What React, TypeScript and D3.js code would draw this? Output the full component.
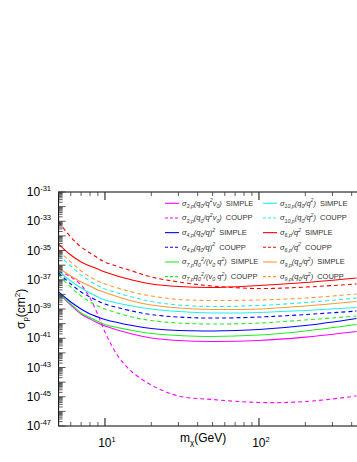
import React from "react";
import * as d3 from "d3";

// ---- data ----
const masses = [5, 6, 7, 8, 9, 10, 15, 20, 30, 50, 100, 200, 430];
const massesCoupp3 = [5, 6, 7, 8, 9, 10, 11, 12, 13, 15, 20, 30, 50, 100, 200, 430];

// log10(sigma_p / cm^2)
const logS3Simple = [-37.91, -38.73, -39.34, -39.68, -39.96, -40.16, -40.71, -40.98, -41.15, -41.22, -41.15, -40.92, -40.54];
const logS3Coupp = [-36.4, -36.81, -37.36, -38.25, -39.41, -40.57, -41.46, -42.15, -42.62, -43.31, -44.2, -44.95, -45.19, -45.39, -45.33, -44.95];
const logS4Simple = [-37.84, -38.52, -39.0, -39.34, -39.55, -39.72, -40.13, -40.33, -40.47, -40.5, -40.4, -40.13, -39.65];
const logS4Coupp = [-36.54, -37.29, -37.84, -38.18, -38.45, -38.66, -39.14, -39.38, -39.55, -39.62, -39.55, -39.38, -39.14];
const logS7Simple = [-37.91, -38.66, -39.27, -39.58, -39.85, -40.06, -40.47, -40.68, -40.81, -40.88, -40.78, -40.5, -40.06];
const logS7Coupp = [-36.68, -37.5, -38.11, -38.52, -38.79, -39.0, -39.55, -39.79, -39.96, -40.03, -39.96, -39.75, -39.48];
const logS10Simple = [-36.4, -37.09, -37.56, -37.91, -38.18, -38.38, -38.79, -39.0, -39.17, -39.27, -39.24, -39.1, -38.9];
const logS10Coupp = [-35.31, -36.06, -36.68, -37.09, -37.39, -37.63, -38.18, -38.49, -38.73, -38.83, -38.76, -38.56, -38.25];
const logS6Simple = [-34.56, -35.31, -35.79, -36.06, -36.27, -36.47, -37.02, -37.29, -37.46, -37.53, -37.39, -37.19, -36.88];
const logS6Coupp = [-33.05, -34.08, -34.76, -35.17, -35.51, -35.79, -36.4, -36.81, -37.15, -37.43, -37.6, -37.5, -37.29];
const logS9Simple = [-36.2, -36.74, -37.15, -37.43, -37.7, -37.87, -38.45, -38.73, -38.93, -39.03, -39.0, -38.79, -38.49];
const logS9Coupp = [-35.03, -35.79, -36.4, -36.81, -37.09, -37.29, -37.84, -38.11, -38.35, -38.42, -38.38, -38.25, -37.97];

const yTickExps = [-31, -33, -35, -37, -39, -41, -43, -45, -47];
const xTickExps = [1, 2];

type Part = [string, "n" | "sub" | "sup"];
const f3: Part[] = [["σ", "n"], ["3,p", "sub"], ["(q", "n"], ["0", "sub"], ["/q", "n"], ["2", "sup"], ["v", "n"], ["0", "sub"], [")", "n"]];
const f4: Part[] = [["σ", "n"], ["4,p", "sub"], ["(q", "n"], ["0", "sub"], ["/q)", "n"], ["2", "sup"]];
const f7: Part[] = [["σ", "n"], ["7,p", "sub"], ["q", "n"], ["0", "sub"], ["2", "sup"], ["/(v", "n"], ["0", "sub"], [" q", "n"], ["2", "sup"], [")", "n"]];
const f10: Part[] = [["σ", "n"], ["10,p", "sub"], ["(q", "n"], ["0", "sub"], ["/q", "n"], ["2", "sup"], [")", "n"]];
const f6: Part[] = [["σ", "n"], ["6,p", "sub"], ["/q", "n"], ["2", "sup"]];
const f9: Part[] = [["σ", "n"], ["9,p", "sub"], ["(q", "n"], ["0", "sub"], ["/q", "n"], ["2", "sup"], [")", "n"]];

const series = [
  { f: f3, exp: "SIMPLE", color: "#ff00ff", dashed: false, m: masses, v: logS3Simple, col: 0, row: 0 },
  { f: f3, exp: "COUPP", color: "#ff00ff", dashed: true, m: massesCoupp3, v: logS3Coupp, col: 0, row: 1 },
  { f: f4, exp: "SIMPLE", color: "#0000ff", dashed: false, m: masses, v: logS4Simple, col: 0, row: 2 },
  { f: f4, exp: "COUPP", color: "#0000ff", dashed: true, m: masses, v: logS4Coupp, col: 0, row: 3 },
  { f: f7, exp: "SIMPLE", color: "#22ee22", dashed: false, m: masses, v: logS7Simple, col: 0, row: 4 },
  { f: f7, exp: "COUPP", color: "#22ee22", dashed: true, m: masses, v: logS7Coupp, col: 0, row: 5 },
  { f: f10, exp: "SIMPLE", color: "#22eeee", dashed: false, m: masses, v: logS10Simple, col: 1, row: 0 },
  { f: f10, exp: "COUPP", color: "#22eeee", dashed: true, m: masses, v: logS10Coupp, col: 1, row: 1 },
  { f: f6, exp: "SIMPLE", color: "#ff0000", dashed: false, m: masses, v: logS6Simple, col: 1, row: 2 },
  { f: f6, exp: "COUPP", color: "#ff0000", dashed: true, m: masses, v: logS6Coupp, col: 1, row: 3 },
  { f: f9, exp: "SIMPLE", color: "#ff9933", dashed: false, m: masses, v: logS9Simple, col: 1, row: 4 },
  { f: f9, exp: "COUPP", color: "#ff9933", dashed: true, m: masses, v: logS9Coupp, col: 1, row: 5 },
];

const W = 357, H = 462;
const L = 58.6, T = 192, B = 426;
const FONT = "Liberation Sans, Arial, sans-serif";

function richTspans(parts: Part[], fs: number, tail: string) {
  const out: React.ReactNode[] = [];
  let cur = 0;
  parts.forEach((p, i) => {
    const target = p[1] === "sub" ? fs * 0.3 : p[1] === "sup" ? -fs * 0.45 : 0;
    const dy = target - cur;
    cur = target;
    out.push(
      <tspan key={i} dy={dy} fontStyle="italic" fontSize={p[1] === "n" ? fs : fs * 0.7}>{p[0]}</tspan>
    );
  });
  out.push(
    <tspan key="tail" dy={-cur} dx={4} fontSize={fs}>{tail}</tspan>
  );
  return out;
}

export default function App() {
  const x = d3.scaleLog().domain([5, 500]).range([L, 366.6]);
  const y = d3.scaleLog().domain([1e-31, 1e-47]).range([T, B]);
  const R = x(500);

  const line = d3
    .line<[number, number]>()
    .x((d) => x(d[0]))
    .y((d) => y(Math.pow(10, d[1])))
    .curve(d3.curveCatmullRom.alpha(0.5));

  const yMinor: { v: number; major: boolean }[] = [];
  for (let e = -47; e < -31; e++) {
    for (let k = 1; k <= 9; k++) yMinor.push({ v: k * Math.pow(10, e), major: k === 1 });
  }
  yMinor.push({ v: 1e-31, major: true });

  const xMinor: { v: number; major: boolean }[] = [];
  [5, 6, 7, 8, 9, 10, 20, 30, 40, 50, 60, 70, 80, 90, 100, 200, 300, 400, 500].forEach((v) =>
    xMinor.push({ v, major: v === 10 || v === 100 })
  );

  const rowY = (r: number) => 203.3 + r * 14.67;
  const colLine = [165, 263];
  const lineLen = 14;

  return (
    <svg width={W} height={H} style={{ display: "block", position: "absolute", left: 0, top: 0 }} fontFamily={FONT}>
      <rect x={0} y={0} width={W} height={H} fill="#fff" />
      <defs>
        <clipPath id="plot">
          <rect x={L} y={T} width={R - L} height={B - T} />
        </clipPath>
      </defs>
      {/* curves */}
      <g clipPath="url(#plot)">
        {series.map((s, i) => (
          <path
            key={i}
            d={line(s.m.map((m, j) => [m, s.v[j]] as [number, number])) || ""}
            fill="none"
            stroke={s.color}
            strokeWidth={1.1}
            strokeDasharray={s.dashed ? "4,3" : undefined}
          />
        ))}
      </g>
      {/* frame */}
      <rect x={L} y={T} width={R - L} height={B - T} fill="none" stroke="#000" strokeWidth={1} />
      {/* y ticks */}
      {yMinor.map((t, i) => (
        <line key={"y" + i} x1={L} x2={L + (t.major ? 7 : 4)} y1={y(t.v)} y2={y(t.v)} stroke="#333" strokeWidth={0.8} />
      ))}
      {/* x ticks */}
      {xMinor.map((t, i) => (
        <g key={"x" + i}>
          <line x1={x(t.v)} x2={x(t.v)} y1={B} y2={B - (t.major ? 8 : 4)} stroke="#333" strokeWidth={t.major ? 1.2 : 0.8} />
          <line x1={x(t.v)} x2={x(t.v)} y1={T} y2={T + (t.major ? 8 : 4)} stroke="#333" strokeWidth={t.major ? 1.2 : 0.8} />
        </g>
      ))}
      {/* y tick labels */}
      {yTickExps.map((e) => (
        <text key={"yl" + e} x={51} y={y(Math.pow(10, e)) + 4} textAnchor="end" fontSize={12} fill="#000">
          10<tspan dy={-5} fontSize={7.5}>{String(e)}</tspan>
        </text>
      ))}
      {/* x tick labels */}
      {xTickExps.map((e) => (
        <text key={"xl" + e} x={x(Math.pow(10, e)) + 2} y={447} textAnchor="middle" fontSize={12} fill="#000">
          10<tspan dy={-5} fontSize={7.5}>{String(e)}</tspan>
        </text>
      ))}
      {/* axis titles */}
      <text x={180} y={442} fontSize={12} fill="#000">
        m<tspan dy={3} fontSize={8}>χ</tspan>
        <tspan dy={-3}>(GeV)</tspan>
      </text>
      <text transform="translate(25,329) rotate(-90)" fontSize={12} fill="#000">
        σ<tspan dy={3} fontSize={8}>p</tspan>
        <tspan dy={-3}>(cm</tspan>
        <tspan dy={-5} fontSize={8}>2</tspan>
        <tspan dy={5}>)</tspan>
      </text>
      {/* legend */}
      {series.map((s, i) => {
        const ly = rowY(s.row);
        const lx = colLine[s.col];
        return (
          <g key={"lg" + i}>
            <line x1={lx} x2={lx + lineLen} y1={ly} y2={ly} stroke={s.color} strokeWidth={1.1} strokeDasharray={s.dashed ? "3,2" : undefined} />
            <text x={lx + lineLen + 3} y={ly + 2.5} fontSize={7.5} fill="#333">
              {richTspans(s.f, 7.5, s.exp)}
            </text>
          </g>
        );
      })}
    </svg>
  );
}
